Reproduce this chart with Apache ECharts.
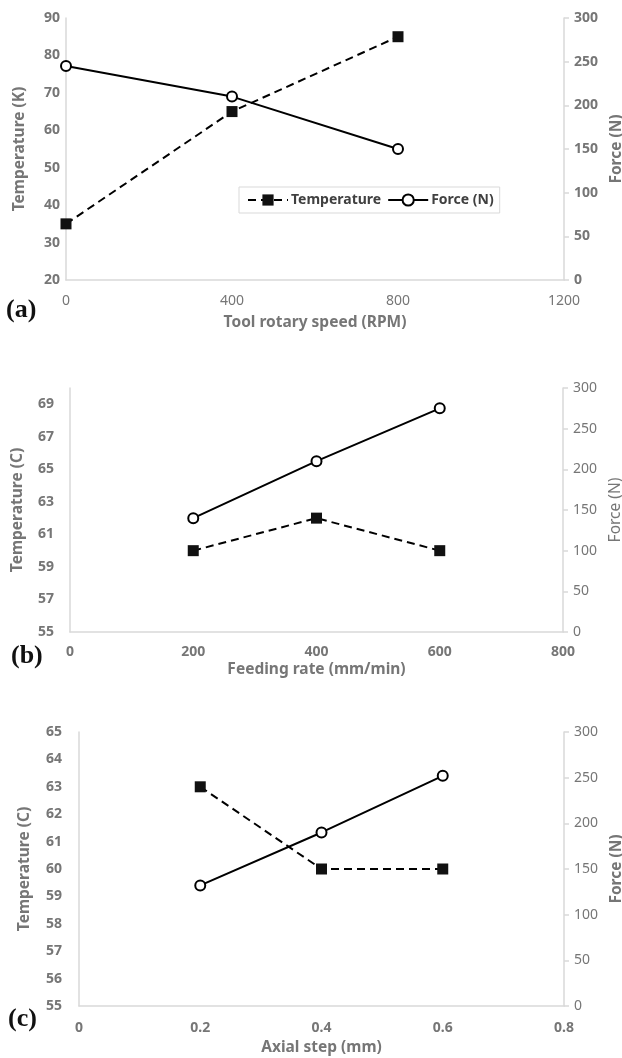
<!DOCTYPE html>
<html>
<head>
<meta charset="utf-8">
<script src="https://cdn.jsdelivr.net/npm/echarts@6/dist/echarts.min.js"></script>
<style>
html,body{margin:0;padding:0;background:#fff;}
#c{width:622px;height:1058px;}
</style>
</head>
<body>
<div id="c"></div>
<script>
// ---- data ----
const speedRPM = [0, 400, 800];
const tempA = [35, 65, 85];
const forceA = [245, 210, 150];

const feedRate = [200, 400, 600];
const tempB = [60, 62, 60];
const forceB = [140, 210, 275];

const axialStep = [0.2, 0.4, 0.6];
const tempC = [63, 60, 60];
const forceC = [132, 190, 252];

const panelLabels = ['(a)', '(b)', '(c)'];
const xNames = ['Tool rotary speed (RPM)', 'Feeding rate (mm/min)', 'Axial step (mm)'];
const leftNames = ['Temperature (K)', 'Temperature (C)', 'Temperature (C)'];
const rightName = 'Force (N)';
const seriesNames = ['Temperature', 'Force (N)'];

// ---- styles ----
const FONT = '"Noto Sans"';
const GRAY = '#767676';
const AXIS = '#d9d9d9';

function pairs(xs, ys) { return xs.map((x, i) => [x, ys[i]]); }
const plain = v => String(v);

function xAxis(gi, min, max, interval, bold, margin, gap) {
  return {
    type: 'value', gridIndex: gi, min, max, interval,
    axisLine: { show: true, lineStyle: { color: AXIS, width: 1.5 } },
    axisTick: { show: false },
    splitLine: { show: false },
    axisLabel: { color: GRAY, fontFamily: FONT, fontSize: 14, fontWeight: bold ? 'bold' : 'normal', margin, formatter: plain },
    name: xNames[gi], nameLocation: 'middle', nameGap: gap,
    nameTextStyle: { color: GRAY, fontFamily: FONT, fontSize: 15.5, fontWeight: 'bold' }
  };
}
function leftAxis(gi, min, max, interval, margin, gap, fmt) {
  return {
    type: 'value', gridIndex: gi, position: 'left', min, max, interval,
    axisLine: { show: true, lineStyle: { color: AXIS, width: 1.5 } },
    axisTick: { show: false },
    splitLine: { show: false },
    axisLabel: { color: GRAY, fontFamily: FONT, fontSize: 14, fontWeight: 'bold', margin, formatter: fmt || plain },
    name: leftNames[gi], nameLocation: 'middle', nameGap: gap, nameRotate: 90,
    nameTextStyle: { color: GRAY, fontFamily: FONT, fontSize: 15.5, fontWeight: 'bold' }
  };
}
function rightAxis(gi, bold, nameBold, gap) {
  return {
    type: 'value', gridIndex: gi, position: 'right', min: 0, max: 300, interval: 50,
    axisLine: { show: true, lineStyle: { color: AXIS, width: 1.5 } },
    axisTick: { show: true, length: 5, lineStyle: { color: AXIS, width: 1.5 } },
    splitLine: { show: false },
    axisLabel: { color: GRAY, fontFamily: FONT, fontSize: 14, fontWeight: bold ? 'bold' : 'normal', margin: 10, formatter: plain },
    name: rightName, nameLocation: 'middle', nameGap: gap, nameRotate: 90,
    nameTextStyle: { color: GRAY, fontFamily: FONT, fontSize: 15.5, fontWeight: nameBold ? 'bold' : 'normal' }
  };
}
function tempSeries(gi, xs, ys, name) {
  return {
    name, type: 'line', xAxisIndex: gi, yAxisIndex: gi * 2, data: pairs(xs, ys),
    symbol: 'rect', symbolSize: 11, showSymbol: true,
    lineStyle: { color: '#000', width: 2, type: [8, 5] },
    itemStyle: { color: '#111' }, z: 3, animation: false
  };
}
function forceSeries(gi, xs, ys, name) {
  return {
    name, type: 'line', xAxisIndex: gi, yAxisIndex: gi * 2 + 1, data: pairs(xs, ys),
    symbol: 'emptyCircle', symbolSize: 10, showSymbol: true,
    lineStyle: { color: '#000', width: 2 },
    itemStyle: { color: '#000', borderWidth: 1.5, borderColor: '#000' }, z: 4, animation: false
  };
}

const chart = echarts.init(document.getElementById('c'), null, { renderer: 'canvas' });
chart.setOption({
  backgroundColor: '#fff',
  animation: false,
  grid: [
    { left: 66, right: 58, top: 18, height: 262, containLabel: false, outerBoundsMode: 'none' },
    { left: 70, right: 59, top: 388, height: 244, containLabel: false, outerBoundsMode: 'none' },
    { left: 79, right: 58, top: 732, height: 274, containLabel: false, outerBoundsMode: 'none' }
  ],
  legend: {
    data: seriesNames,
    left: 239, top: 187,
    padding: [6, 6, 6, 8],
    itemGap: 6,
    itemWidth: 40, itemHeight: 14,
    borderColor: AXIS, borderWidth: 1,
    textStyle: { color: '#404040', fontFamily: FONT, fontSize: 14, fontWeight: 'bold', padding: [0, 0, 0, -2] },
    selectedMode: false
  },
  xAxis: [
    xAxis(0, 0, 1200, 400, false, 14, 35),
    xAxis(1, 0, 800, 200, true, 13, 30),
    xAxis(2, 0, 0.8, 0.2, true, 15, 34)
  ],
  yAxis: [
    leftAxis(0, 20, 90, 10, 6, 38),
    rightAxis(0, true, true, 44),
    leftAxis(1, 55, 70, 1, 16, 44, v => (v % 2 === 1 ? String(v) : '')),
    rightAxis(1, false, false, 44),
    leftAxis(2, 55, 65, 1, 17, 46),
    rightAxis(2, false, true, 41)
  ],
  series: [
    tempSeries(0, speedRPM, tempA, seriesNames[0]),
    forceSeries(0, speedRPM, forceA, seriesNames[1]),
    tempSeries(1, feedRate, tempB, seriesNames[0]),
    forceSeries(1, feedRate, forceB, seriesNames[1]),
    tempSeries(2, axialStep, tempC, seriesNames[0]),
    forceSeries(2, axialStep, forceC, seriesNames[1])
  ],
  graphic: [
    { type: 'text', left: 6, top: 297, style: { text: panelLabels[0], font: 'bold 26px "Liberation Serif"', fill: '#111' } },
    { type: 'text', left: 11, top: 643, style: { text: panelLabels[1], font: 'bold 26px "Liberation Serif"', fill: '#111' } },
    { type: 'text', left: 8, top: 1006, style: { text: panelLabels[2], font: 'bold 26px "Liberation Serif"', fill: '#111' } }
  ]
});
</script>
</body>
</html>
